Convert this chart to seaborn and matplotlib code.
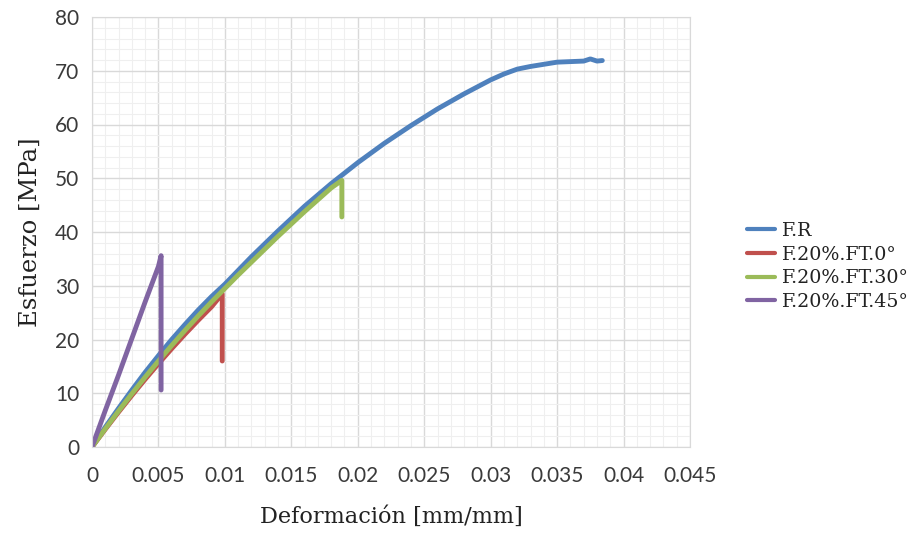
import numpy as np
import pandas as pd
import matplotlib
matplotlib.use("Agg")
import matplotlib.pyplot as plt
import seaborn as sns
from matplotlib.ticker import AutoMinorLocator

# Curvas esfuerzo-deformacion
fr_x = [0, 0.001, 0.002, 0.003, 0.004, 0.005, 0.006, 0.007, 0.008, 0.009, 0.010,
        0.012, 0.014, 0.016, 0.018, 0.020, 0.022, 0.024, 0.026, 0.028, 0.030,
        0.031, 0.032, 0.033, 0.034, 0.035, 0.036, 0.037, 0.0375, 0.038, 0.0384]
fr_y = [0, 3.7, 7.2, 10.6, 13.9, 17.0, 20.0, 22.8, 25.5, 28.0, 30.3,
        35.4, 40.2, 44.8, 49.0, 52.9, 56.5, 59.8, 62.9, 65.7, 68.3,
        69.4, 70.3, 70.8, 71.2, 71.6, 71.7, 71.8, 72.2, 71.8, 71.9]

ft0_x = [0, 0.001, 0.002, 0.003, 0.004, 0.005, 0.006, 0.007, 0.008, 0.009, 0.0098, 0.0098]
ft0_y = [0, 3.3, 6.5, 9.6, 12.6, 15.5, 18.3, 21.0, 23.6, 26.1, 28.5, 16.0]

ft30_x = [0, 0.001, 0.002, 0.003, 0.004, 0.005, 0.006, 0.007, 0.008, 0.009, 0.010,
          0.011, 0.012, 0.013, 0.014, 0.015, 0.016, 0.017, 0.018, 0.0188, 0.0188]
ft30_y = [0, 3.4, 6.7, 9.9, 13.0, 16.0, 18.9, 21.7, 24.4, 27.0, 29.5,
          32.0, 34.4, 36.8, 39.2, 41.5, 43.8, 46.0, 48.2, 49.6, 42.8]

ft45_x = [0, 0.0005, 0.001, 0.0015, 0.002, 0.0025, 0.003, 0.0035, 0.004, 0.0045, 0.005, 0.0052, 0.0052]
ft45_y = [0, 3.4, 6.8, 10.1, 13.4, 16.8, 20.2, 23.6, 27.0, 30.3, 33.6, 35.6, 10.6]

series = ["F.R", "F.20%.FT.0°", "F.20%.FT.30°", "F.20%.FT.45°"]
colors = ["#4F81BD", "#C0504D", "#9BBB59", "#8064A2"]

x_ticks = [0, 0.005, 0.01, 0.015, 0.02, 0.025, 0.03, 0.035, 0.04, 0.045]
x_labels = ["0", "0.005", "0.01", "0.015", "0.02", "0.025", "0.03", "0.035", "0.04", "0.045"]
y_ticks = [0, 10, 20, 30, 40, 50, 60, 70, 80]

frames = []
for name, xs, ys in zip(series, [fr_x, ft0_x, ft30_x, ft45_x], [fr_y, ft0_y, ft30_y, ft45_y]):
    frames.append(pd.DataFrame({"x": xs, "y": ys, "serie": name}))
df = pd.concat(frames, ignore_index=True)

sns.set_style("white")
fig = plt.figure(figsize=(9.22, 5.36), dpi=100)
ax = fig.add_axes([92 / 922, 1 - 447 / 536, (690 - 92) / 922, (447 - 17) / 536])

sns.lineplot(data=df, x="x", y="y", hue="serie", hue_order=series,
             palette=colors, sort=False, estimator=None, units="serie",
             linewidth=3.5, ax=ax)

ax.set_xlim(0, 0.045)
ax.set_ylim(0, 80)
ax.set_xticks(x_ticks)
ax.set_xticklabels(x_labels)
ax.set_yticks(y_ticks)
ax.xaxis.set_minor_locator(AutoMinorLocator(5))
ax.yaxis.set_minor_locator(AutoMinorLocator(5))
ax.grid(which="major", color="#D9D9D9", linewidth=1.0)
ax.grid(which="minor", color="#EFEFEF", linewidth=0.8)
ax.set_axisbelow(True)
ax.tick_params(which="both", length=0, labelsize=15)
ax.tick_params(axis="y", pad=9)
ax.tick_params(axis="x", pad=14)
for lab in ax.get_xticklabels() + ax.get_yticklabels():
    lab.set_family("Lato")
    lab.set_color("#3A3A3A")
for sp in ax.spines.values():
    sp.set_color("#D9D9D9")

ax.set_xlabel("Deformación [mm/mm]", family="DejaVu Serif", fontsize=16.2, color="#222222", labelpad=14)
ax.set_ylabel("Esfuerzo [MPa]", family="DejaVu Serif", fontsize=17.5, color="#222222", labelpad=10)

leg = ax.legend(loc="center left", bbox_to_anchor=(1.083, 0.42), frameon=False,
                prop={"family": "DejaVu Serif", "size": 13.7},
                handlelength=1.47, handletextpad=0.3, labelspacing=0.3, borderaxespad=0)
for line in leg.get_lines():
    line.set_linewidth(3)
for t in leg.get_texts():
    t.set_color("#222222")

fig.savefig("out.png", dpi=100)
